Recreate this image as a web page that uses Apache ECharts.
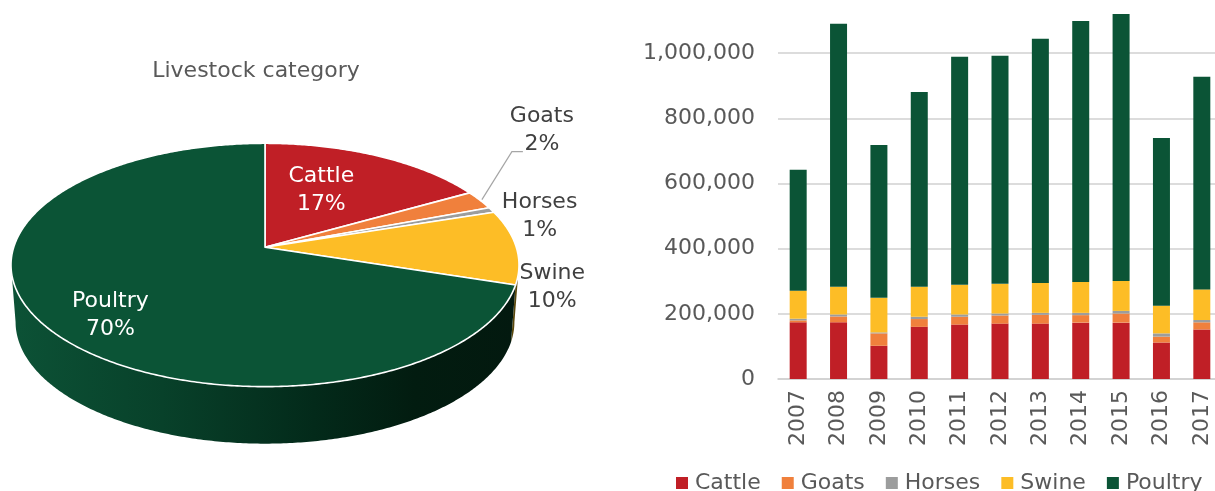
<!DOCTYPE html>
<html>
<head>
<meta charset="utf-8">
<title>Livestock category</title>
<script src="https://cdn.jsdelivr.net/npm/echarts@6/dist/echarts.min.js"></script>
<style>
  html, body { margin: 0; padding: 0; background: #ffffff; }
  #chart { width: 1215px; height: 491px; }
</style>
</head>
<body>
<div id="chart"></div>
<script>
// Yearly head counts per livestock category
const years = ['2007', '2008', '2009', '2010', '2011', '2012', '2013', '2014', '2015', '2016', '2017'];
const categories = ['Cattle', 'Goats', 'Horses', 'Swine', 'Poultry'];
const cattle  = [174000, 174000, 102000, 160000, 167000, 170000, 170000, 173000, 173000, 112000, 152000];
const goats   = [6000, 18000, 38000, 24000, 24000, 25000, 27000, 23000, 28000, 18000, 22000];
const horses  = [5000, 6000, 3000, 7000, 7000, 6000, 6000, 7000, 8000, 10000, 7000];
const swine   = [86000, 85000, 106000, 92000, 91000, 91000, 92000, 95000, 92000, 85000, 94000];
const poultry = [371000, 807000, 469000, 598000, 700000, 700000, 749000, 801000, 819000, 515000, 653000];
const yTicks = { min: 0, max: 1200000, interval: 200000 };

const seriesValues = [cattle, goats, horses, swine, poultry];
const colors = ['#c01f26', '#f0803c', '#9c9d9d', '#fdbd26', '#0b5436'];
const sideColors = ['#5e1010', '#6e3a1a', '#4a4a4a', '#5a480c', null];
const FONT = 'DejaVu Sans';

// Pie shares: totals over all years
const pieTotals = seriesValues.map(arr => arr.reduce((s, v) => s + v, 0));
const grandTotal = pieTotals.reduce((s, v) => s + v, 0);
const angles = [];
(function () {
  let acc = 0;
  pieTotals.forEach(v => {
    const a0 = acc / grandTotal * Math.PI * 2;
    acc += v;
    angles.push([a0, acc / grandTotal * Math.PI * 2]);
  });
})();

// Tilted pie geometry (perspective view of a disc)
const PIE = { cx: 265, cy: 247.3, a: 251.3, b: 119.1, p: 0.1453, depth: 57, sx: 0.982 };
function proj(r, th, dy, sx) {
  const u = r * Math.sin(th), v = -r * Math.cos(th);
  const w = 1 - PIE.p * v;
  return [PIE.cx + (sx || 1) * PIE.a * u / w, PIE.cy + PIE.b * v / w + (dy || 0)];
}
const thRight = Math.acos(-PIE.p);
const thLeft = Math.PI * 2 - thRight;

function arc(a0, a1, dy, sx) {
  const pts = [];
  const n = Math.max(2, Math.ceil(Math.abs(a1 - a0) / 0.01));
  for (let k = 0; k <= n; k++) pts.push(proj(1, a0 + (a1 - a0) * k / n, dy, sx));
  return pts;
}

const labelLayout = {
  Cattle:  { r: 0.55, dx: -9, dy: -4, inside: true },
  Goats:   { r: 1, dx: 62, dy: -70, leader: true },
  Horses:  { r: 1, dx: 48, dy: 6 },
  Swine:   { r: 1, dx: 36, dy: 40 },
  Poultry: { r: 0.72, dx: 1, dy: 14, inside: true }
};

function renderSide(params) {
  const i = params.dataIndex;
  const s0 = Math.max(angles[i][0], thRight), s1 = Math.min(angles[i][1], thLeft);
  if (s1 <= s0) return null;
  const top = arc(s0, s1, 0, 1);
  const bottom = arc(s1, s0, PIE.depth, PIE.sx);
  let fill = sideColors[i];
  if (!fill) {
    fill = new echarts.graphic.LinearGradient(0, 0, 1, 0, [
      { offset: 0, color: '#0c5236' },
      { offset: 0.3, color: '#08412a' },
      { offset: 0.6, color: '#032a1a' },
      { offset: 0.8, color: '#021c10' },
      { offset: 1, color: '#03190f' }
    ]);
  }
  return { type: 'polygon', shape: { points: top.concat(bottom) }, style: { fill: fill } };
}

function renderTop(params) {
  const i = params.dataIndex;
  const [a0, a1] = angles[i];
  const pts = [[PIE.cx, PIE.cy]].concat(arc(a0, a1, 0, 1));
  const name = categories[i];
  const lay = labelLayout[name];
  const mid = (a0 + a1) / 2;
  const anchor = proj(lay.r, mid);
  const lx = anchor[0] + lay.dx, ly = anchor[1] + lay.dy;
  const pct = Math.round(pieTotals[i] / grandTotal * 100) + '%';
  const children = [
    { type: 'polygon', shape: { points: pts },
      style: { fill: colors[i], stroke: '#ffffff', lineWidth: 1.6, lineJoin: 'round' } },
    { type: 'text', z2: 10,
      style: { text: name + '\n' + pct, x: lx, y: ly, fill: lay.inside ? '#ffffff' : '#404040',
        fontSize: 22, fontFamily: FONT, align: 'center', verticalAlign: 'middle', lineHeight: 28 } }
  ];
  if (lay.leader) {
    const start = proj(1.01, mid);
    children.push({ type: 'polyline', z2: 5,
      shape: { points: [start, [lx - 30, ly + 21.5], [lx - 19, ly + 21.5]] },
      style: { stroke: '#a6a6a6', lineWidth: 1.2, fill: null } });
  }
  return { type: 'group', children: children };
}

const pieData = categories.map((c, i) => ({ name: c, value: pieTotals[i] }));

const chart = echarts.init(document.getElementById('chart'), null, { renderer: 'canvas' });
chart.setOption({
  animation: false,
  backgroundColor: '#ffffff',
  textStyle: { fontFamily: FONT },
  title: {
    text: 'Livestock category', left: 251, top: 55, textAlign: 'center',
    textStyle: { fontSize: 22, fontWeight: 'normal', color: '#595959', fontFamily: FONT }
  },
  legend: {
    data: categories, left: 676, top: 471, width: 700, padding: 0,
    icon: 'rect', itemWidth: 12, itemHeight: 12, itemGap: 21,
    textStyle: { fontSize: 22, color: '#595959', fontFamily: FONT, padding: [0, 0, 0, 2], lineHeight: 24 },
    selectedMode: false
  },
  grid: { left: 778, right: -7, top: -12, bottom: 112, containLabel: false, outerBoundsMode: 'none' },
  xAxis: {
    type: 'category', data: years,
    axisLine: { lineStyle: { color: '#d0d0d0', width: 1.6 } },
    axisTick: { show: false },
    axisLabel: { rotate: 90, fontSize: 22, color: '#595959', fontFamily: FONT, margin: 11, interval: 0 }
  },
  yAxis: {
    type: 'value', min: yTicks.min, max: yTicks.max, interval: yTicks.interval,
    axisLine: { show: false }, axisTick: { show: false },
    splitLine: { lineStyle: { color: '#d0d0d0', width: 1.6 } },
    axisLabel: { fontSize: 22, color: '#595959', fontFamily: FONT, margin: 23 }
  },
  series: categories.map((c, i) => ({
    name: c, type: 'bar', stack: 'total', barWidth: 17,
    itemStyle: { color: colors[i] }, data: seriesValues[i]
  })).concat([
    { type: 'custom', name: 'pieSide', coordinateSystem: 'none', z: 1, silent: true,
      renderItem: renderSide, data: pieData },
    { type: 'custom', name: 'pieTop', coordinateSystem: 'none', z: 2, silent: true,
      renderItem: renderTop, data: pieData }
  ])
});
</script>
</body>
</html>
